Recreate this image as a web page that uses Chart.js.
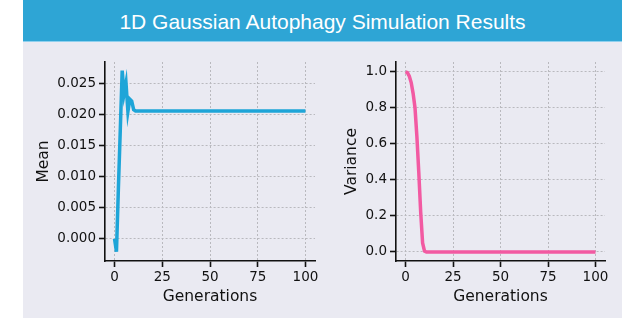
<!DOCTYPE html>
<html>
<head>
<meta charset="utf-8">
<script src="https://cdn.jsdelivr.net/npm/chart.js@4.4.1/dist/chart.umd.min.js"></script>
<style>
  html, body { margin: 0; padding: 0; background: #ffffff; width: 640px; height: 332px; overflow: hidden; }
  #panel { position: absolute; left: 23px; top: 0; width: 599px; height: 318px; background: #eaeaf2; }
  #banner { position: absolute; left: 23px; top: 0; width: 599px; height: 42px; background: #2ea5d5;
            border-bottom: 1px solid #8fd0ee; box-sizing: border-box;
            color: #ffffff; font-family: "Liberation Sans", Arial, sans-serif; font-size: 21px;
            text-align: center; line-height: 43px; }
  #c1 { position: absolute; left: 23px; top: 42px; }
  #c2 { position: absolute; left: 323px; top: 42px; }
</style>
</head>
<body>
<div id="panel"></div>
<div id="banner">1D Gaussian Autophagy Simulation Results</div>
<canvas id="c1" width="300" height="276"></canvas>
<canvas id="c2" width="299" height="276"></canvas>
<script>
// ---- data ----
const generations = Array.from({length: 101}, (_, i) => i);
const meanEarly = [0.0, -0.0021, 0.008, 0.0175, 0.0271, 0.0234, 0.0251, 0.0205, 0.0225, 0.0222, 0.0208];
const meanPlateau = 0.0206;
const varianceEarly = [1.0, 0.995, 0.975, 0.94, 0.88, 0.80, 0.64, 0.44, 0.22, 0.05, 0.005, 0.0];
const variancePlateau = 0.0;
const xTicks = [0, 25, 50, 75, 100];
const meanTicks = [0.000, 0.005, 0.010, 0.015, 0.020, 0.025];
const varianceTicks = [0.0, 0.2, 0.4, 0.6, 0.8, 1.0];

const meanValues = generations.map(g => g < meanEarly.length ? meanEarly[g] : meanPlateau);
const varianceValues = generations.map(g => g < varianceEarly.length ? varianceEarly[g] : variancePlateau);

const tickFont = { family: "DejaVu Sans", size: 13.5 };
const titleFont = { family: "DejaVu Sans", size: 15.5 };
const gridColor = "rgba(185,185,190,1)";

function makeChart(id, values, color, yTicks, yMin, yMax, yLabel, yWidth, yTitlePad, padRight, decimals) {
  return new Chart(document.getElementById(id), {
    type: "line",
    data: {
      datasets: [{
        data: generations.map((g, i) => ({ x: g, y: values[i] })),
        borderColor: color,
        borderWidth: 3.5,
        pointRadius: 0,
        tension: 0,
        fill: false
      }]
    },
    options: {
      responsive: false,
      animation: false,
      events: [],
      layout: { padding: { left: 0, top: 20, right: padRight, bottom: 0 } },
      plugins: { legend: { display: false }, tooltip: { enabled: false }, title: { display: false } },
      scales: {
        x: {
          type: "linear",
          min: -5, max: 105,
          afterBuildTicks: s => { s.ticks = xTicks.map(v => ({ value: v })); },
          afterFit: s => { s.height = 57; },
          grid: { color: gridColor, lineWidth: 1, tickLength: 6, tickColor: "#111", tickWidth: 1.6 },
          border: { display: true, color: "#111", width: 1.6, dash: [2, 2] },
          ticks: { font: tickFont, color: "#111", padding: 2, maxRotation: 0, callback: v => String(v) },
          title: { display: true, text: "Generations", font: titleFont, color: "#111", padding: { top: 0, bottom: 12 } }
        },
        y: {
          type: "linear",
          min: yMin, max: yMax,
          afterBuildTicks: s => { s.ticks = yTicks.map(v => ({ value: v })); },
          afterFit: s => { s.width = yWidth; },
          grid: { color: gridColor, lineWidth: 1, tickLength: 6, tickColor: "#111", tickWidth: 1.6 },
          border: { display: true, color: "#111", width: 1.6, dash: [2, 2] },
          ticks: { font: tickFont, color: "#111", padding: 3, callback: v => Number(v).toFixed(decimals) },
          title: { display: true, text: yLabel, font: titleFont, color: "#111", padding: { top: yTitlePad, bottom: 0 } }
        }
      }
    }
  });
}

makeChart("c1", meanValues, "#1ea5d8", meanTicks, -0.0036, 0.0285, "Mean", 82, 12, 8, 3);
makeChart("c2", varianceValues, "#f25aa2", varianceTicks, -0.05, 1.054, "Variance", 73, 20, 17, 1);
</script>
</body>
</html>
